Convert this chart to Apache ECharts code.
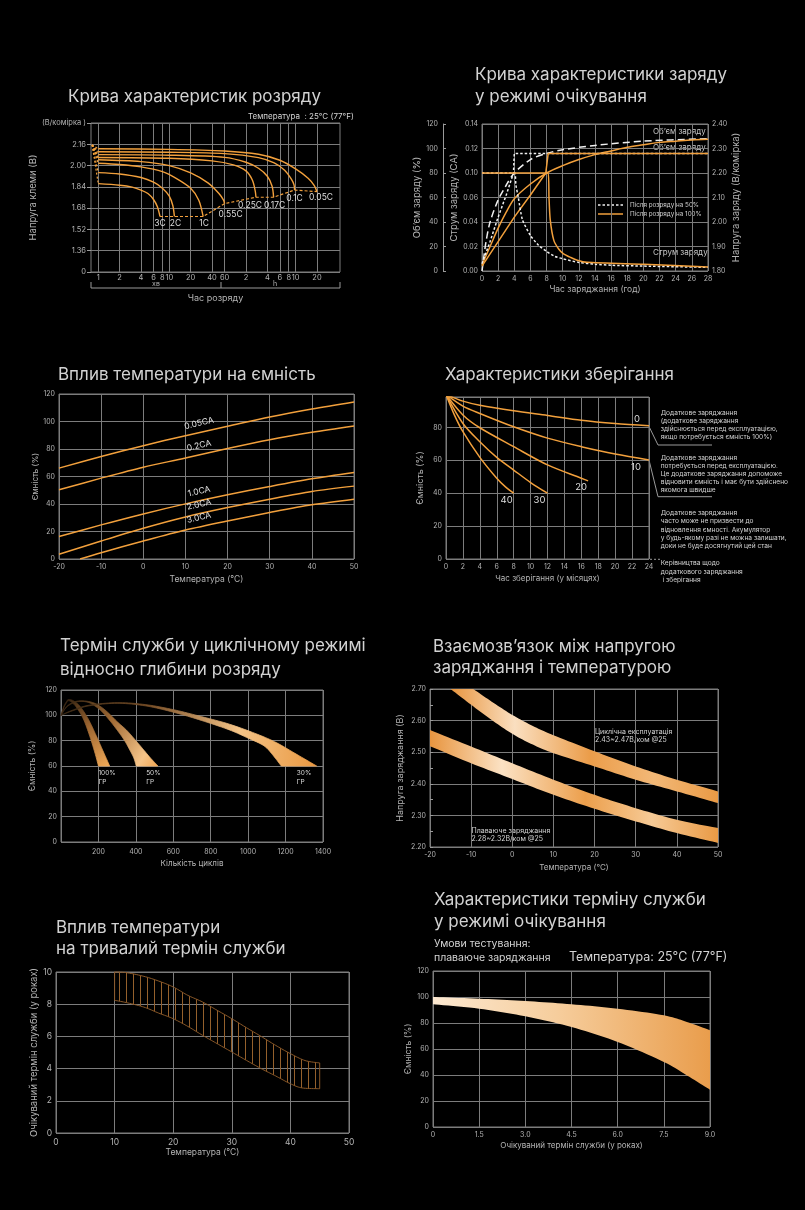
<!DOCTYPE html>
<html>
<head>
<meta charset="utf-8">
<title>Battery characteristics</title>
<script src="https://cdn.jsdelivr.net/npm/echarts@6.0.0/dist/echarts.min.js"></script>
<style>
  html, body { margin: 0; padding: 0; background: #000; }
  #chart { width: 805px; height: 1210px; }
</style>
</head>
<body>
<div id="chart"></div>
<script>
/* ========================================
   Data
   ======================================== */

// 1. Discharge curves: [minutes, V/cell]
const dischargeRates = ['3C', '2C', '1C', '0.55C', '0.25C', '0.17C', '0.1C', '0.05C'];
const discharge3C   = [[1, 1.864], [2, 1.852], [3, 1.838], [4, 1.816], [5, 1.79], [6, 1.745], [6.8, 1.69], [7.4, 1.617]];
const discharge2C   = [[1, 1.947], [2, 1.937], [4, 1.91], [6, 1.875], [8, 1.83], [10, 1.77], [11.2, 1.7], [11.8, 1.617]];
const discharge1C   = [[1, 2.017], [2, 2.008], [4, 1.99], [8, 1.955], [12, 1.91], [20, 1.83], [26, 1.74], [30, 1.617]];
const discharge055C = [[1, 2.044], [4, 2.03], [10, 2.0], [20, 1.945], [35, 1.87], [50, 1.79], [58, 1.74], [60, 1.714]];
const discharge025C = [[1, 2.061], [10, 2.055], [40, 2.035], [80, 2.005], [120, 1.96], [148, 1.89], [162, 1.81], [166, 1.762]];
const discharge017C = [[1, 2.082], [10, 2.078], [60, 2.062], [120, 2.025], [180, 1.98], [240, 1.92], [280, 1.845], [294, 1.762]];
const discharge01C  = [[1, 2.104], [10, 2.1], [60, 2.09], [180, 2.06], [300, 2.02], [420, 1.965], [520, 1.9], [570, 1.855], [580, 1.816]];
const discharge005C = [[1, 2.126], [10, 2.122], [60, 2.11], [180, 2.085], [360, 2.04], [600, 1.975], [900, 1.905], [1100, 1.85], [1200, 1.804]];
const dischargeOrigin = [0.82, 2.155];
const dischargeTickMinutes = [1, 2, 4, 6, 8, 10, 20, 40, 60, 120, 240, 360, 480, 600, 1200];
const dischargeTickText = ['1', '2', '4', '6', '8', '10', '20', '40', '60', '2', '4', '6', '8', '10', '20'];

// 2. Float charge: hours vs volume %, current CA, voltage V/cell
const volume50   = [[0, 0], [0.2, 10], [0.5, 24], [1, 40], [2, 58], [3, 70], [4, 80], [6, 91], [8, 96], [10, 99], [14, 102.5], [20, 106], [28, 108]];
const volume100  = [[0, 5], [1, 20], [2, 35], [3, 48], [4, 59], [6, 71], [8, 80], [10, 86], [12, 91], [14, 95], [16, 98], [18, 101], [20, 103], [22, 105], [24, 106], [26, 107], [28, 107.5]];
const voltage50  = [[0, 1.83], [1, 1.92], [2, 2.02], [3, 2.11], [3.9, 2.2], [4, 2.28], [28, 2.28]];
const voltage100 = [[0, 1.82], [2, 1.92], [4, 2.02], [6, 2.11], [7.9, 2.2], [8.2, 2.28], [28, 2.28]];
const current50  = [[0, 0.1], [4, 0.1], [4.2, 0.08], [4.5, 0.06], [5, 0.042], [6, 0.029], [7, 0.021], [8, 0.016], [9, 0.012], [10, 0.01], [12, 0.007], [14, 0.0055], [16, 0.0047], [20, 0.004], [28, 0.003]];
const current100 = [[0, 0.1], [8.2, 0.1], [8.3, 0.06], [8.45, 0.042], [8.9, 0.025], [9.5, 0.018], [10.1, 0.014], [11, 0.011], [11.8, 0.0088], [13, 0.0071], [20, 0.0055], [28, 0.0033]];
const currentTickText = ['0.00', '0.02', '0.04', '0.06', '0.10', '0.12', '0.14'];

// 3. Temperature vs capacity: [°C, %]
const capRates = ['0.05CA', '0.2CA', '1.0CA', '2.0CA', '3.0CA'];
const cap005 = [[-20, 66.1], [-10, 74.5], [0, 82.4], [10, 89.7], [20, 96.5], [30, 103.3], [40, 109.1], [50, 114.2]];
const cap02  = [[-20, 50.3], [-10, 58.8], [0, 66.8], [10, 73.4], [20, 80.4], [30, 86.8], [40, 92.1], [50, 96.7]];
const cap10  = [[-20, 16.3], [-10, 24.8], [0, 32.8], [10, 40.1], [20, 46.7], [30, 52.7], [40, 58.3], [50, 62.9]];
const cap20  = [[-20, 3.4], [-10, 13.1], [0, 22.4], [10, 30.6], [20, 37.4], [30, 43.5], [40, 49.1], [50, 53]];
const cap30  = [[-15, 0], [-10, 4.6], [0, 13.1], [10, 21.1], [20, 27.7], [30, 33.8], [40, 39.4], [50, 43.5]];

// 4. Storage: [months, %] per storage temperature
const storageTemps = ['0', '10', '20', '30', '40'];
const storage0  = [[0, 100], [2, 96], [4, 93.5], [8, 90.1], [12, 87.3], [16, 84.4], [20, 82.4], [24, 81]];
const storage10 = [[0, 100], [2, 93], [4, 88.5], [8, 80.4], [12, 73.5], [16, 68.3], [20, 63.8], [24, 60.2]];
const storage20 = [[0, 100], [2, 87.6], [4, 79.8], [8, 68.3], [12, 57.2], [16, 49.1], [16.8, 47.5]];
const storage30 = [[0, 100], [2, 82.4], [4, 71.3], [6, 61.8], [8, 54.1], [10, 46.5], [12, 40]];
const storage40 = [[0, 100], [1, 87.5], [2, 77.4], [4, 61.8], [6, 49.1], [7, 44], [8, 40]];

// 5. Cycle life vs depth of discharge: band edges [cycles, %]
const dod100Outer = [[0, 100], [15, 107], [30, 111], [40, 112.5], [66, 111.5], [102, 107], [146, 97], [191, 83], [227, 71], [260, 60]];
const dod100Inner = [[0, 100], [15, 106], [30, 110], [40, 111.5], [60, 110], [84, 106], [120, 97], [155, 83], [182, 70], [200, 60]];
const dod50Outer  = [[0, 100], [30, 107], [70, 110.5], [110, 111.5], [160, 110.5], [200, 108], [245, 103], [300, 95], [352, 88], [400, 80], [440, 73], [480, 66], [518, 60]];
const dod50Inner  = [[0, 100], [30, 106.5], [70, 110], [110, 111], [150, 110], [185, 107], [218, 103], [260, 96], [302, 88], [340, 80], [370, 72], [390, 66], [402, 60]];
const dod30Outer  = [[0, 100], [60, 104], [150, 108], [300, 110], [450, 108.5], [600, 104.5], [750, 99], [900, 93], [1050, 85], [1150, 78.5], [1250, 70], [1366, 60]];
const dod30Inner  = [[0, 100], [60, 103.5], [150, 107.5], [300, 109.5], [450, 107.5], [600, 102.5], [750, 96], [900, 88.5], [1000, 82], [1084, 76], [1130, 69], [1177, 60]];

// 6. Charge voltage vs temperature: band edges [°C, V]
const cyclicTop    = [[-9.5, 2.70], [-5, 2.66], [0, 2.618], [5, 2.583], [10, 2.554], [20, 2.503], [30, 2.455], [40, 2.413], [50, 2.376]];
const cyclicBottom = [[-15, 2.70], [-10, 2.65], [-5, 2.602], [0, 2.558], [5, 2.524], [10, 2.497], [20, 2.455], [30, 2.413], [40, 2.376], [50, 2.339]];
const floatTop     = [[-20, 2.57], [-10, 2.518], [0, 2.465], [10, 2.413], [20, 2.365], [30, 2.323], [40, 2.286], [50, 2.26]];
const floatBottom  = [[-20, 2.519], [-10, 2.465], [0, 2.415], [10, 2.365], [20, 2.321], [30, 2.281], [40, 2.244], [50, 2.213]];

// 7. Temperature vs service life: band edges [°C, years]
const lifeTop    = [[10, 10], [12, 9.96], [15, 9.73], [17.5, 9.44], [20, 9.07], [22.5, 8.55], [25, 8.14], [27.5, 7.62], [30, 7.1], [32.5, 6.54], [35, 6.0], [37.5, 5.44], [40, 4.93], [42.5, 4.5], [45, 4.35]];
const lifeBottom = [[10, 8.24], [12, 8.1], [15, 7.82], [17.5, 7.45], [20, 7.1], [22.5, 6.62], [25, 6.07], [27.5, 5.55], [30, 5.03], [32.5, 4.51], [35, 4.0], [37.5, 3.54], [40, 3.06], [42, 2.8], [45, 2.75]];

// 8. Float service life: band edges [years, %]
const floatLifeTop    = [[0, 100], [1.5, 98.7], [3, 96.9], [4.5, 94.4], [6, 91], [7.5, 85.9], [8.25, 80.8], [9, 74.4]];
const floatLifeBottom = [[0, 94.4], [1.5, 91], [3, 85.1], [4.5, 76.9], [6, 65.4], [7.5, 50], [8.25, 39.7], [9, 28.7]];

/* ========================================
   Styling helpers
   ======================================== */
const ORANGE = '#f2a03c';
const WHITE = '#f0f0f0';
const GRID_COLOR = '#7c7c7c';
const LABEL = '#b4b4b4';
const TEXT = '#d4d4d4';
const FONT = 'Inter, "Noto Sans", sans-serif';

function merge(base, extra) {
  const out = Object.assign({}, base);
  Object.keys(extra || {}).forEach(k => {
    const v = extra[k];
    if (v && typeof v === 'object' && !Array.isArray(v) && base[k] && typeof base[k] === 'object') {
      out[k] = Object.assign({}, base[k], v);
    } else {
      out[k] = v;
    }
  });
  return out;
}

function axis(gridIndex, opts) {
  return merge({
    type: 'value',
    gridIndex: gridIndex,
    nameLocation: 'middle',
    nameTextStyle: { color: LABEL, fontSize: 8.5, fontFamily: FONT },
    axisLine: { show: false, onZero: false },
    axisTick: { show: false },
    axisLabel: { color: LABEL, fontSize: 7, fontFamily: FONT, margin: 4 },
    splitLine: { show: true, lineStyle: { color: GRID_COLOR, width: 1 } }
  }, opts);
}

function line(xi, yi, data, extra) {
  return merge({
    type: 'line', xAxisIndex: xi, yAxisIndex: yi, data: data,
    showSymbol: false, silent: true, smooth: 0.3,
    lineStyle: { color: ORANGE, width: 1.5 }, itemStyle: { color: ORANGE }
  }, extra);
}

function pointLabel(coord, text, offset, extra) {
  return {
    symbol: 'circle', symbolSize: 0, silent: true, animation: false,
    label: Object.assign({ show: true, position: 'inside', formatter: text, offset: offset,
      color: '#dedede', fontSize: 9, fontFamily: FONT }, extra || {}),
    data: [{ coord: coord }]
  };
}

// Catmull-Rom through pixel points, to draw smooth band edges
function spline(pts, seg) {
  if (pts.length < 3) return pts.slice();
  const out = [];
  for (let i = 0; i < pts.length - 1; i++) {
    const p0 = pts[i - 1] || pts[i], p1 = pts[i], p2 = pts[i + 1], p3 = pts[i + 2] || pts[i + 1];
    for (let s = 0; s < seg; s++) {
      const t = s / seg, t2 = t * t, t3 = t2 * t;
      out.push([0, 1].map(k => 0.5 * (2 * p1[k] + (p2[k] - p0[k]) * t +
        (2 * p0[k] - 5 * p1[k] + 4 * p2[k] - p3[k]) * t2 + (3 * p1[k] - p0[k] - 3 * p2[k] + p3[k]) * t3)));
    }
  }
  out.push(pts[pts.length - 1]);
  return out;
}

function band(xi, yi, outer, inner, styleFn, labelFn) {
  return {
    type: 'custom', coordinateSystem: 'cartesian2d', xAxisIndex: xi, yAxisIndex: yi,
    silent: true, data: [outer[0]],
    renderItem: function (params, api) {
      const a = spline(outer.map(p => api.coord(p)), 10);
      const b = spline(inner.map(p => api.coord(p)), 10).reverse();
      const children = [{ type: 'polygon', shape: { points: a.concat(b) }, style: styleFn() }];
      if (labelFn) children.push(labelFn(api));
      return { type: 'group', children: children };
    }
  };
}

function grad(x2, y2, stops) {
  return new echarts.graphic.LinearGradient(0, 0, x2, y2, stops.map(c => ({ offset: c[0], color: c[1] })));
}

function txt(x, y, text, size, extra) {
  return { type: 'text', x: x, y: y, silent: true,
    style: Object.assign({ text: text, fill: TEXT, fontSize: size, fontFamily: FONT,
      align: 'left', verticalAlign: 'middle' }, extra || {}) };
}

function seg(points, extra) {
  return { type: 'polyline', silent: true, shape: { points: points },
    style: Object.assign({ stroke: '#9a9a9a', lineWidth: 1, fill: null }, extra || {}) };
}

/* ========================================
   Layout
   ======================================== */
const grids = [
  { left: 91, top: 123, width: 249, height: 149 },
  { left: 482, top: 124, width: 226, height: 147 },
  { left: 59, top: 394, width: 295, height: 165 },
  { left: 446, top: 397, width: 203, height: 162 },
  { left: 61, top: 690, width: 262, height: 152 },
  { left: 430, top: 689, width: 288, height: 158 },
  { left: 56, top: 972, width: 293, height: 161 },
  { left: 433, top: 971, width: 277, height: 156 }
].map(g => Object.assign({ show: true, borderColor: GRID_COLOR, borderWidth: 1, backgroundColor: 'transparent' }, g));

const titleStyle = { color: '#d2d2d2', fontSize: 17, fontWeight: 'normal', fontFamily: FONT, lineHeight: 22 };
const titles = [
  { text: 'Крива характеристик розряду', left: 68, top: 86 },
  { text: 'Крива характеристики заряду\nу режимі очікування', left: 475, top: 64 },
  { text: 'Вплив температури на ємність', left: 58, top: 364 },
  { text: 'Характеристики зберігання', left: 445, top: 364 },
  { text: 'Термін служби у циклічному режимі\nвідносно глибини розряду', left: 60, top: 634, lh: 24 },
  { text: 'Взаємозв’язок між напругою\nзаряджання і температурою', left: 433, top: 636, lh: 21.5 },
  { text: 'Вплив температури\nна тривалий термін служби', left: 56, top: 917, lh: 21 },
  { text: 'Характеристики терміну служби\nу режимі очікування', left: 434, top: 889, lh: 21.7 }
].map(t => ({ text: t.text, left: t.left, top: t.top, padding: 0,
  textStyle: Object.assign({}, titleStyle, t.lh ? { lineHeight: t.lh } : {}) }));

const lg = v => Math.log10(v);
const near = (a, b) => Math.abs(a - b) < 1e-6;

/* ---------- axes ---------- */
const xAxes = [
  // 1 discharge (log of minutes)
  axis(0, { min: lg(0.79), max: lg(2530), name: 'Час розряду', nameGap: 22,
    nameTextStyle: { fontSize: 9 },
    axisTick: { show: false, customValues: dischargeTickMinutes.map(lg) },
    axisLabel: { customValues: dischargeTickMinutes.map(lg), fontSize: 7.5, margin: 2,
      formatter: v => { const i = dischargeTickMinutes.findIndex(m => Math.abs(lg(m) - v) < 1e-6); return i < 0 ? '' : dischargeTickText[i]; } } }),
  // 2 charge
  axis(1, { min: 0, max: 28, interval: 2, name: 'Час заряджання (год)', nameGap: 14, nameTextStyle: { fontSize: 8.5 } }),
  // 3 temp capacity
  axis(2, { min: -20, max: 50, interval: 10, name: 'Температура (°C)', nameGap: 16 }),
  // 4 storage
  axis(3, { min: 0, max: 24, interval: 2, name: 'Час зберігання (у місяцях)', nameGap: 16, nameTextStyle: { fontSize: 8 } }),
  // 5 cycles
  axis(4, { min: 0, max: 1400, interval: 200, name: 'Кількість циклів', nameGap: 18, nameTextStyle: { fontSize: 8 },
    axisLabel: { showMinLabel: false, margin: 6, formatter: v => String(v) } }),
  // 6 voltage vs temp
  axis(5, { min: -20, max: 50, interval: 10, name: 'Температура (°C)', nameGap: 17, nameTextStyle: { fontSize: 8 } }),
  // 7 temp life
  axis(6, { min: 0, max: 50, interval: 10, name: 'Температура (°C)', nameGap: 14, nameTextStyle: { fontSize: 8.5 },
    axisLabel: { fontSize: 8.5, margin: 5 } }),
  // 8 float life
  axis(7, { min: 0, max: 9, interval: 1.5, name: 'Очікуваний термін служби (у роках)', nameGap: 15, nameTextStyle: { fontSize: 8 },
    axisLabel: { formatter: v => v === 0 ? '0' : v.toFixed(1) } })
];

const yAxes = [
  // 0: discharge
  axis(0, { min: 1.2, max: 2.32, interval: 0.16, name: 'Напруга клеми (В)', nameGap: 39, nameTextStyle: { fontSize: 9.5 },
    axisTick: { show: true, length: 4, lineStyle: { color: '#9a9a9a' } },
    axisLabel: { fontSize: 7.5, margin: 5,
      formatter: v => near(v, 1.2) ? '0' : near(v, 2.32) ? '(В/комірка )' : v.toFixed(2) } }),
  // 1: charge volume %
  axis(1, { position: 'left', min: 0, max: 120, interval: 20, offset: 39, name: 'Об’єм заряду (%)', nameGap: 20, nameTextStyle: { fontSize: 9.5 },
    axisLine: { show: true, lineStyle: { color: '#9a9a9a' } },
    axisTick: { show: true, inside: true, length: 3, lineStyle: { color: '#9a9a9a' } },
    axisLabel: { margin: 5 } }),
  // 2: charge current (row index, labelled)
  axis(1, { position: 'left', min: 0, max: 6, interval: 1, name: 'Струм заряду (СА)', nameGap: 21, nameTextStyle: { fontSize: 9.5 },
    splitLine: { show: false }, axisLabel: { formatter: v => currentTickText[Math.round(v)] } }),
  // 3: charge voltage
  axis(1, { position: 'right', min: 1.8, max: 2.4, interval: 0.1, name: 'Напруга заряду (В/комірка)', nameGap: 22,
    nameTextStyle: { fontSize: 9.5 }, splitLine: { show: false }, axisLabel: { formatter: v => v.toFixed(2) } }),
  // 4: temp capacity
  axis(2, { min: 0, max: 120, interval: 20, name: 'Ємність (%)', nameGap: 13, nameTextStyle: { fontSize: 8 } }),
  // 5: storage
  axis(3, { min: 0, max: 98.5, interval: 20, name: 'Ємність (%)', nameGap: 21, nameTextStyle: { fontSize: 9 },
    axisLabel: { showMaxLabel: false } }),
  // 6: cycles
  axis(4, { min: 0, max: 120, interval: 20, name: 'Ємність (%)', nameGap: 24, nameTextStyle: { fontSize: 8.5 } }),
  // 7: voltage vs temp
  axis(5, { min: 2.2, max: 2.7, interval: 0.1, name: 'Напруга заряджання (В)', nameGap: 25, nameTextStyle: { fontSize: 9 },
    axisTick: { show: true, inside: true, length: 3, lineStyle: { color: '#9a9a9a' } },
    minorTick: { show: true, splitNumber: 2, length: 3, lineStyle: { color: '#9a9a9a' } },
    axisLabel: { formatter: v => v.toFixed(2) } }),
  // 8: temp life
  axis(6, { min: 0, max: 10, interval: 2, name: 'Очікуваний термін служби (у роках)', nameGap: 12, nameTextStyle: { fontSize: 9.5 },
    axisLabel: { fontSize: 8.5, margin: 4 } }),
  // 9: float life
  axis(7, { min: 0, max: 120, interval: 20, name: 'Ємність (%)', nameGap: 16, nameTextStyle: { fontSize: 8.5 } })
];

/* ---------- series ---------- */
const series = [];

// 1. discharge
const dischargeCurves = [discharge3C, discharge2C, discharge1C, discharge055C, discharge025C, discharge017C, discharge01C, discharge005C];
const dischargeLabelOffset = [[0, 7], [1, 7], [1, 7], [6, 11], [-6, 8], [1, 8], [0, 8], [4, 6]];
dischargeCurves.forEach((c, i) => {
  const pts = c.map(p => [lg(p[0]), p[1]]);
  series.push(line(0, 0, pts, { lineStyle: { width: 1.4 },
    markPoint: pointLabel(pts[pts.length - 1], dischargeRates[i], dischargeLabelOffset[i], { fontSize: 8.5 }) }));
  series.push(line(0, 0, [[lg(dischargeOrigin[0]), dischargeOrigin[1]], pts[0]],
    { smooth: false, lineStyle: { type: [2, 2], width: 1.2 } }));
});
series.push(line(0, 0, dischargeCurves.map(c => [lg(c[c.length - 1][0]), c[c.length - 1][1]]),
  { smooth: false, lineStyle: { type: [3, 2], width: 1.2 } }));

// 2. float charge
const currentRow = v => {
  const vals = currentTickText.map(Number);
  for (let i = 0; i < vals.length - 1; i++) {
    if (v <= vals[i + 1]) return i + (v - vals[i]) / (vals[i + 1] - vals[i]);
  }
  return vals.length - 1;
};
series.push(line(1, 1, volume50, { lineStyle: { color: WHITE, type: [7, 4], width: 1.5 } }));
series.push(line(1, 1, volume100, {}));
series.push(line(1, 3, voltage50, { smooth: false, lineStyle: { color: WHITE, type: [2.5, 2], width: 1.5 } }));
series.push(line(1, 3, voltage100, { smooth: false }));
series.push(line(1, 2, current50.map(p => [p[0], currentRow(p[1])]), { smooth: 0.2, lineStyle: { color: WHITE, type: [2.5, 2], width: 1.5 } }));
series.push(line(1, 2, current100.map(p => [p[0], currentRow(p[1])]), { smooth: 0.2 }));

// 3. temperature vs capacity
[cap005, cap02, cap10, cap20, cap30].forEach((c, i) => {
  const at = c.find(p => p[0] === 10);
  series.push(line(2, 4, c, {
    markPoint: pointLabel(at, capRates[i], [16, -9], { rotate: 13, fontSize: 8.5, color: '#e0e0e0' })
  }));
});

// 4. storage
const storageLabelOffset = [[-12, -7], [-13, 7], [-7, 6], [-8, 7], [-7, 7]];
[storage0, storage10, storage20, storage30, storage40].forEach((c, i) => {
  series.push(line(3, 5, c, {
    markPoint: pointLabel(c[c.length - 1], storageTemps[i], storageLabelOffset[i], { fontSize: 9.5 })
  }));
});

// 5. cycle life bands
const dodBands = [
  { outer: dod100Outer, inner: dod100Inner, text: '100%\nГР', at: [200, 60],
    stops: [[0, '#2a1c0e'], [0.45, '#9a6430'], [1, '#f3ab58']], dir: [1, 1] },
  { outer: dod50Outer, inner: dod50Inner, text: '50%\nГР', at: [455, 60],
    stops: [[0, '#2a1c0e'], [0.45, '#a06a34'], [0.85, '#f6c488'], [1, '#f0a550']], dir: [1, 1] },
  { outer: dod30Outer, inner: dod30Inner, text: '30%\nГР', at: [1260, 60],
    stops: [[0, '#3a2814'], [0.35, '#7a5028'], [0.7, '#f5c487'], [1, '#ea9a44']], dir: [1, 0.3] }
];
dodBands.forEach(b => {
  series.push(band(4, 6, b.outer, b.inner,
    () => { const g = grad(b.dir[0], b.dir[1], b.stops); return { fill: g, stroke: g, lineWidth: 0.8 }; },
    api => {
      const p = api.coord(b.at);
      return { type: 'text', x: p[0], y: p[1] + 3,
        style: { text: b.text, fill: '#dcdcdc', fontSize: 6.5, fontFamily: FONT, lineHeight: 8.5, align: 'left', verticalAlign: 'top' } };
    }));
});

// 6. charge voltage vs temperature
series.push(band(5, 7, cyclicTop, cyclicBottom, () => ({
  fill: grad(1, 0, [[0, '#e8953f'], [0.24, '#fadfc0'], [0.52, '#eb9d4a'], [0.76, '#f2b877'], [1, '#e99a45']]) })));
series.push(band(5, 7, floatTop, floatBottom, () => ({
  fill: grad(1, 0, [[0, '#e8953f'], [0.25, '#fbe2c4'], [0.54, '#ec9f4c'], [0.77, '#f6ca96'], [1, '#e99a45']]) })));

// 7. temperature vs life (hatched band)
const hatch = document.createElement('canvas');
hatch.width = 7; hatch.height = 4;
(function () {
  const ctx = hatch.getContext('2d');
  ctx.fillStyle = '#94602c';
  ctx.fillRect(0, 0, 1, 4);
})();
series.push(band(6, 8, lifeTop, lifeBottom, () => ({
  fill: { image: hatch, repeat: 'repeat' }, stroke: '#8a5828', lineWidth: 1 })));

// 8. float life band
series.push(band(7, 9, floatLifeTop, floatLifeBottom, () => ({
  fill: grad(1, 0, [[0, '#fce8d0'], [0.45, '#f6cd9c'], [1, '#e99d4c']]) })));

/* ---------- free text / decoration ---------- */
const noteBlock = { verticalAlign: 'top', lineHeight: 8.2 };
const graphics = [
  // 1. discharge
  txt(248, 117, 'Температура  : 25°C (77°F)', 8),
  seg([[91, 282], [91, 288], [340, 288], [340, 282]]),
  seg([[221, 282], [221, 288]]),
  txt(156, 284, 'хв', 7, { align: 'center', fill: LABEL }),
  txt(275, 284, 'h', 7, { align: 'center', fill: LABEL }),
  // 2. charge
  txt(653, 132, 'Об’єм заряду', 8, { fill: '#c8c8c8' }),
  txt(653, 148, 'Об’єм заряду', 8, { fill: '#c8c8c8' }),
  txt(653, 253, 'Струм заряду', 8, { fill: '#c8c8c8' }),
  seg([[598, 205], [623, 205]], { stroke: WHITE, lineWidth: 1.5, lineDash: [2.5, 2] }),
  seg([[598, 214], [623, 214]], { stroke: ORANGE, lineWidth: 1.5 }),
  txt(630, 205, 'Після розряду на 50%', 6.3, { fill: '#cfcfcf' }),
  txt(630, 214, 'Після розряду на 100%', 6.3, { fill: '#cfcfcf' }),
  // 4. storage notes
  seg([[649, 426.5], [658, 445], [712, 445]]),
  seg([[649, 460], [658, 496.7], [712, 496.7]]),
  seg([[650, 559.3], [660, 559.3]], { lineDash: [2, 2] }),
  txt(660.7, 408.6, 'Додаткове заряджання\n(додаткове заряджання\nздійснюється перед експлуатацією,\nякщо потребується ємність 100%)', 6.6, noteBlock),
  txt(660.7, 453.6, 'Додаткове заряджання\nпотребується перед експлуатацією.\nЦе додаткове заряджання допоможе\nвідновити ємність і має бути здійснено\nякомога швидше', 6.6, noteBlock),
  txt(660.7, 509.2, 'Додаткове заряджання\nчасто може не призвести до\nвідновлення ємності. Акумулятор\nу будь-якому разі не можна залишати,\nдоки не буде досягнутий цей стан', 6.6, noteBlock),
  txt(660.7, 559, 'Керівництва щодо\nдодаткового заряджання\n і зберігання', 6.6, { verticalAlign: 'top', lineHeight: 8.4 }),
  // 6. voltage notes
  txt(595, 727.4, 'Циклічна експлуатація\n2.43~2.47В/ком @25', 7, { verticalAlign: 'top', lineHeight: 8.6 }),
  txt(471.5, 826.4, 'Плаваюче заряджання\n2.28~2.32В/ком @25', 7, { verticalAlign: 'top', lineHeight: 8.6 }),
  // 8. float life notes
  txt(434, 944, 'Умови тестування:', 10.5),
  txt(434, 958, 'плаваюче заряджання', 10.5),
  txt(569, 957, 'Температура: 25°C (77°F)', 12.5)
];

const chart = echarts.init(document.getElementById('chart'), null, { renderer: 'canvas' });
chart.setOption({
  backgroundColor: '#000',
  animation: false,
  textStyle: { fontFamily: FONT },
  title: titles,
  grid: grids,
  xAxis: xAxes,
  yAxis: yAxes,
  series: series,
  graphic: { elements: graphics }
});
</script>
</body>
</html>
